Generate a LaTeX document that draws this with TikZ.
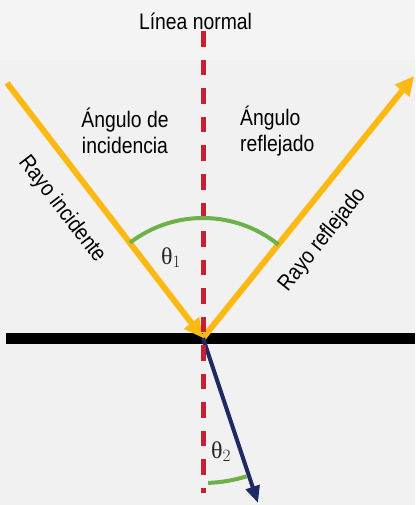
\documentclass[tikz,border=0pt]{standalone}
\usepackage{fontspec}
\setmainfont{Liberation Sans}[FakeStretch=0.86]
\newfontfamily\grkfont{Liberation Serif}
\usetikzlibrary{arrows.meta}
\definecolor{bgGrey}{RGB}{241,241,241}
\definecolor{bgTop}{RGB}{244,244,244}
\definecolor{rayYellow}{RGB}{253,185,19}
\definecolor{refrNavy}{RGB}{30,42,100}
\definecolor{normalRed}{RGB}{200,32,48}
\definecolor{arcGreen}{RGB}{108,178,72}

\begin{document}
\begin{tikzpicture}[x=1pt, y=-1pt,
  txt/.style={font=\fontsize{22.5}{26}\selectfont, inner sep=0pt, text=black},
  greek/.style={font=\fontsize{24}{26}\selectfont\grkfont, inner sep=0pt, text=black!85},
  rayarr/.style={line width=6pt, rayYellow, -{Triangle[length=19pt, width=18pt]}},
  refrarr/.style={line width=4pt, refrNavy, -{Triangle[length=17pt, width=14pt]}},
  normalline/.style={line width=5pt, normalRed, dash pattern=on 15.5pt off 13pt},
  anglearc/.style={line width=4pt, arcGreen}
]
  % background
  \fill[bgGrey] (0,0) rectangle (415,505);
  \fill[bgTop] (0,0) rectangle (415,60);
  \useasboundingbox (0,0) rectangle (415,505);

  % points
  \coordinate (P)    at (203,338);
  \coordinate (inc)  at (7,83);
  \coordinate (refl) at (414,76);
  \coordinate (refr) at (258,503);
  \coordinate (nTop) at (203,31.5);
  \coordinate (nBot) at (203,493);
  \coordinate (mirL) at (6,338);
  \coordinate (mirR) at (415,338);

  % mirror and rays
  \draw[line width=11pt, black] (mirL) -- (mirR);
  \draw[rayarr] (inc) -- node[txt, sloped, pos=0.415, below=20pt] (incLbl) {Rayo incidente} (P);
  \draw[rayarr] (P) -- node[txt, sloped, pos=0.45, below=18pt] (reflLbl) {Rayo reflejado} (refl);
  \draw[refrarr] (P) -- (refr);
  \draw[normalline] (nTop) -- (nBot);

  % angles
  \draw[anglearc] (P) ++(-127.5:120) arc[start angle=-127.5, end angle=-51, radius=120];
  \draw[anglearc] (P) ++(88:145) arc[start angle=88, end angle=72.5, radius=145];
  \node[greek, anchor=base west] (th1) at (161,264) {θ$_1$};
  \node[greek, anchor=base west] (th2) at (211,458) {θ$_2$};

  % labels
  \node[txt, anchor=base] (normLbl) at (195.5,30) {Línea normal};
  \node[txt, align=center] (angInc) at (125,131) {Ángulo de\\incidencia};
  \node[txt, align=left, anchor=west] (angRefl) at (240,131) {Ángulo\\reflejado};
\end{tikzpicture}
\end{document}
